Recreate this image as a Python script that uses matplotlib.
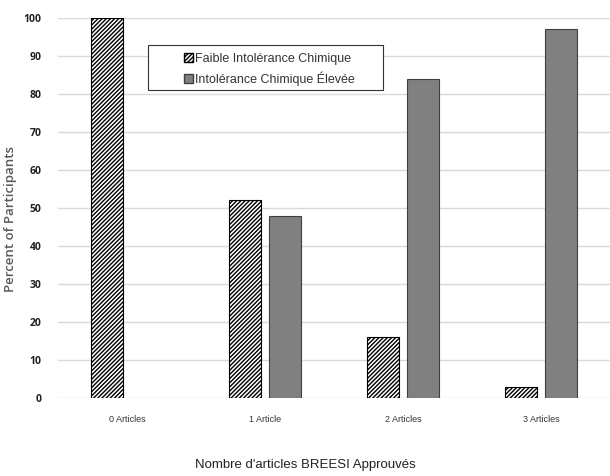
import numpy as np
import matplotlib
matplotlib.use("Agg")
import matplotlib.pyplot as plt
from matplotlib.patches import Patch, Rectangle

categories = ["0 Articles", "1 Article", "2 Articles", "3 Articles"]
faible = [100, 52, 16, 3]
elevee = [0, 48, 84, 97]
series_names = ["Faible Intolérance Chimique", "Intolérance Chimique Élevée"]

plt.rcParams['hatch.linewidth'] = 1.0

fig = plt.figure(figsize=(6.1, 4.76), dpi=100)
ax = fig.add_axes([0.095, 0.164, 0.905, 0.798])

x = np.arange(len(categories))
w = 0.23
ax.bar(x - 0.145, faible, w, color="white", edgecolor="black", hatch="////////",
       linewidth=[0 if v == 0 else 0.8 for v in faible], zorder=3)
ax.bar(x + 0.145, elevee, w, color="#808080", edgecolor="#404040",
       linewidth=[0 if v == 0 else 0.8 for v in elevee], zorder=3)

ax.set_xlim(-0.5, 3.5)
ax.set_ylim(0, 100)
ax.set_yticks(range(0, 101, 10))
ax.grid(axis="y", color="#d9d9d9", linewidth=1.0, zorder=0)
for s in ax.spines.values():
    s.set_visible(False)
ax.tick_params(axis="both", length=0)
ax.tick_params(axis="y", pad=12, labelsize=7.5, labelcolor="#222222")
ax.set_yticklabels([str(v) for v in range(0, 101, 10)], fontweight="bold", family="Open Sans")
ax.set_xticks(x)
ax.set_xticklabels(categories, fontsize=6.5, color="#333333", family="Liberation Sans")
ax.tick_params(axis="x", pad=12)

ax.set_ylabel("Percent of Participants", fontsize=9.5, color="#595959", family="Open Sans", fontweight="semibold")
ax.yaxis.set_label_coords(-0.075, 0.47)
fig.text(0.5, 1 - 465 / 476, "Nombre d'articles BREESI Approuvés", ha="center", va="center",
         fontsize=9.5, color="#222222", family="Liberation Sans")

# legend box drawn separately so the entries can sit off-centre like the original
ax.add_patch(Rectangle((0.163, 0.811), 0.426, 0.118, transform=ax.transAxes,
                       facecolor="white", edgecolor="#333333", linewidth=0.8, zorder=4))
handles = [Patch(facecolor="white", edgecolor="black", hatch="////////"),
           Patch(facecolor="#808080", edgecolor="#404040")]
leg = ax.legend(handles, series_names, loc="upper left", bbox_to_anchor=(0.228, 0.908),
                frameon=False, handlelength=0.75, handleheight=0.75, handletextpad=0.15,
                borderpad=0, labelspacing=0.5, borderaxespad=0,
                prop={"family": "Liberation Sans", "size": 9})
leg.set_zorder(5)
for t in leg.get_texts():
    t.set_color("#333333")

fig.savefig("out.png", dpi=100)
